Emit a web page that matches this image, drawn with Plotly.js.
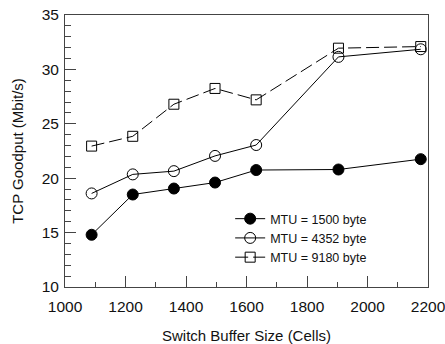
<!DOCTYPE html>
<html>
<head>
<meta charset="utf-8">
<script src="https://cdn.plot.ly/plotly-3.0.1.min.js"></script>
<style>html,body{margin:0;padding:0;background:#fff;}#chart{width:445px;height:344px;}</style>
</head>
<body>
<div id="chart"></div>
<script>
const bufferSize = [1088, 1224, 1360, 1496, 1632, 1904, 2176];
const mtu1500 = [14.8, 18.5, 19.05, 19.6, 20.75, 20.8, 21.75];
const mtu4352 = [18.6, 20.35, 20.65, 22.05, 23.05, 31.15, 31.85];
const mtu9180 = [22.95, 23.85, 26.8, 28.25, 27.2, 31.95, 32.1];
const seriesNames = ['MTU = 1500 byte', 'MTU = 4352 byte', 'MTU = 9180 byte'];

const traces = [
  {x: bufferSize, y: mtu1500, name: seriesNames[0], mode: 'lines+markers',
   line: {color: '#000', width: 1},
   marker: {symbol: 'circle', size: 11, color: '#000', line: {color: '#000', width: 1}}},
  {x: bufferSize, y: mtu4352, name: seriesNames[1], mode: 'lines+markers',
   line: {color: '#000', width: 1},
   marker: {symbol: 'circle-open', size: 11, color: '#000', line: {color: '#000', width: 1}}},
  {x: bufferSize, y: mtu9180, name: seriesNames[2], mode: 'lines+markers',
   line: {color: '#000', width: 1, dash: '13px,5px'},
   marker: {symbol: 'square-open', size: 10, color: '#000', line: {color: '#000', width: 1}}}
];

const tickFont = {family: 'Liberation Sans, Arial, sans-serif', size: 15.5, color: '#111'};
const titleFont = {family: 'Liberation Sans, Arial, sans-serif', size: 15, color: '#111'};
const layout = {
  width: 445, height: 344,
  margin: {l: 65, r: 17, t: 15, b: 57},
  paper_bgcolor: '#fff', plot_bgcolor: '#fff',
  font: tickFont,
  showlegend: true,
  legend: {x: 0.455, y: 0.305, xanchor: 'left', yanchor: 'top',
           bgcolor: 'rgba(0,0,0,0)', font: {family: 'Liberation Sans, Arial, sans-serif', size: 12.5, color: '#111'},
           tracegroupgap: 0, itemsizing: 'trace'},
  xaxis: {range: [1000, 2200], dtick: 200, tick0: 1000, showgrid: false, zeroline: false,
          ticks: 'inside', ticklen: 11, tickwidth: 1, tickcolor: '#444',
          showline: true, linecolor: '#444', linewidth: 1, mirror: true,
          minor: {dtick: 100, ticks: 'inside', ticklen: 5, tickcolor: '#444', showgrid: false},
          tickfont: tickFont, ticklabelstandoff: 5, ticklabeloverflow: 'allow',
          title: {text: 'Switch Buffer Size (Cells)', font: titleFont, standoff: 21}},
  yaxis: {range: [10, 35], dtick: 5, tick0: 10, showgrid: false, zeroline: false,
          ticks: 'inside', ticklen: 11, tickwidth: 1, tickcolor: '#444',
          showline: true, linecolor: '#444', linewidth: 1, mirror: true,
          minor: {dtick: 1, ticks: 'inside', ticklen: 6, tickcolor: '#444', showgrid: false},
          tickfont: tickFont, ticklabelstandoff: 2, ticklabeloverflow: 'allow',
          title: {text: 'TCP Goodput (Mbit/s)', font: titleFont, standoff: 14}}
};
Plotly.newPlot('chart', traces, layout, {staticPlot: true, displayModeBar: false});
</script>
</body>
</html>
